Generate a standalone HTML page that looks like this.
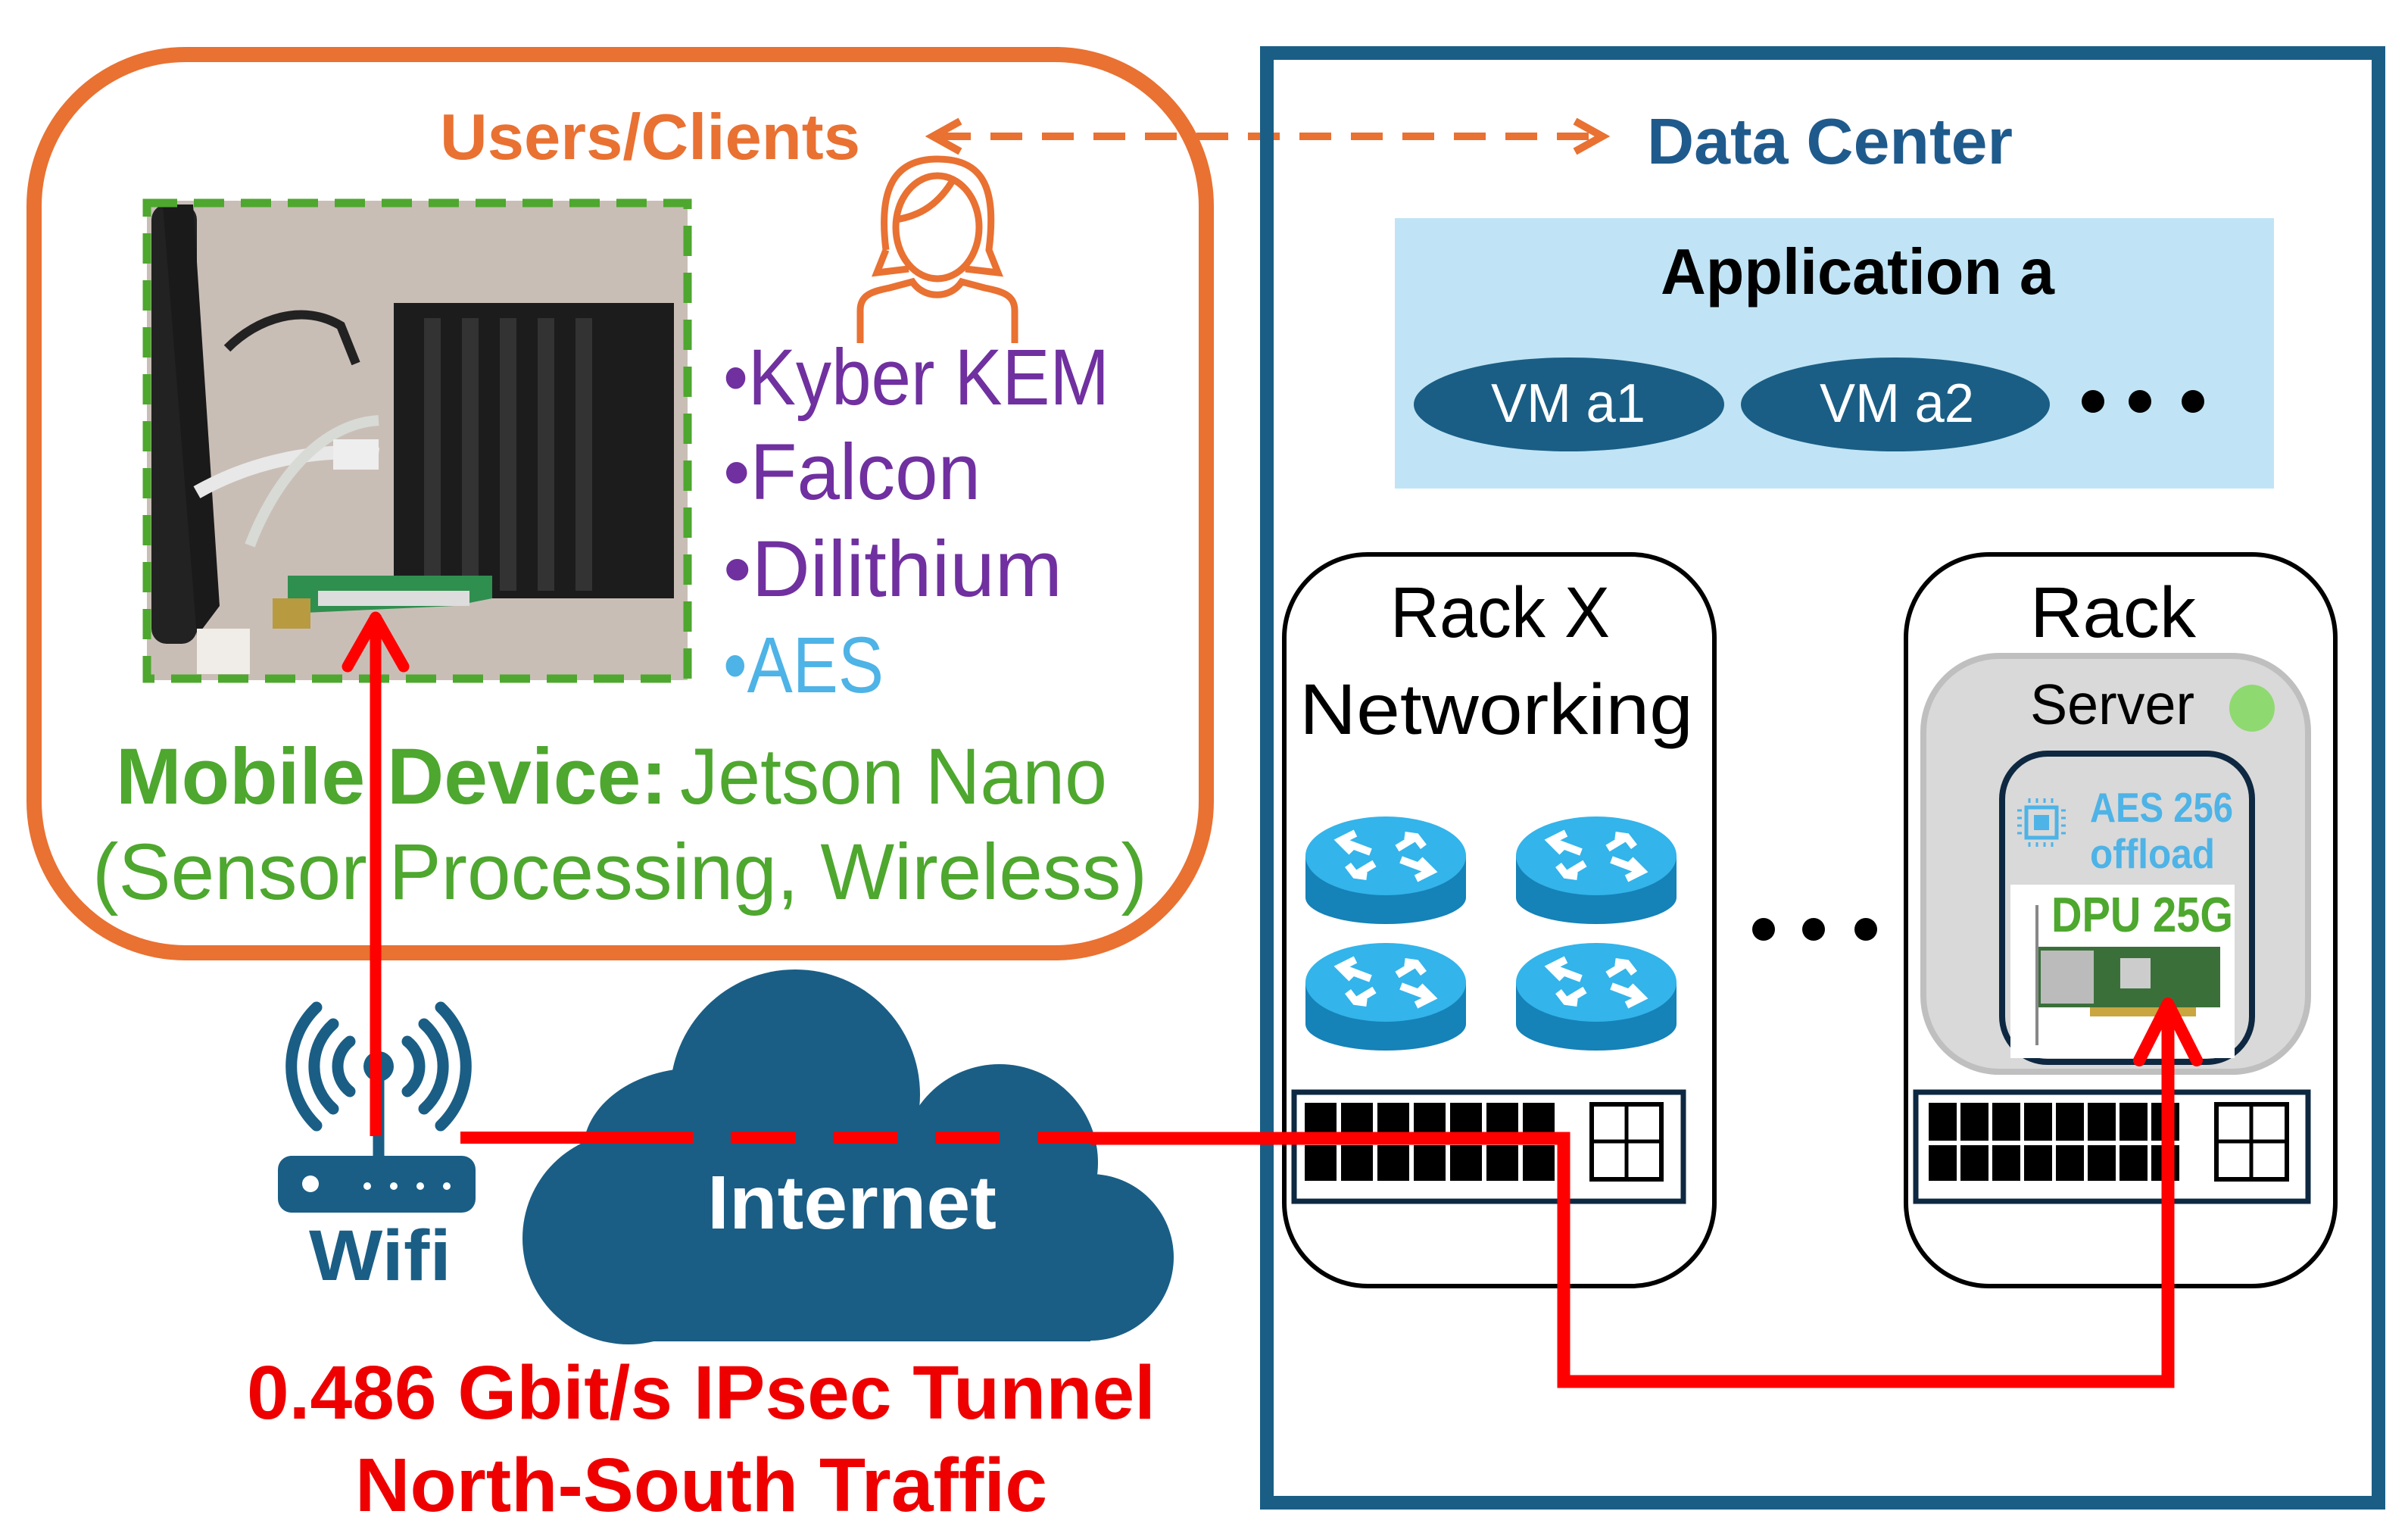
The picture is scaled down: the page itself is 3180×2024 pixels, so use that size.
<!DOCTYPE html>
<html><head><meta charset="utf-8"><style>html,body{margin:0;padding:0;background:#fff}svg{display:block}text{font-family:"Liberation Sans",sans-serif}</style></head><body>
<svg width="3180" height="2024" viewBox="0 0 3180 2024" xmlns="http://www.w3.org/2000/svg">
<rect width="3180" height="2024" fill="#fff"/>
<!-- Orange users box -->
<rect x="45" y="72" width="1548" height="1186" rx="200" fill="none" stroke="#E97132" stroke-width="20"/>
<text x="581" y="210" font-size="85" font-weight="bold" fill="#E97132" textLength="555" lengthAdjust="spacingAndGlyphs">Users/Clients</text>
<!-- dashed double arrow -->
<line x1="1240" y1="180" x2="2105" y2="180" stroke="#E97132" stroke-width="10" stroke-dasharray="42 26"/>
<polyline points="1268,160 1232,180 1268,200" fill="none" stroke="#E97132" stroke-width="10"/>
<polyline points="2080,160 2116,180 2080,200" fill="none" stroke="#E97132" stroke-width="10"/>
<!-- person icon -->
<g fill="none" stroke="#E97132" stroke-width="9">
<ellipse cx="1238" cy="300" rx="55" ry="68"/>
<path d="M1170,330 C1160,250 1180,210 1238,210 C1300,210 1316,250 1306,330 L1318,360 L1275,355"/>
<path d="M1170,330 L1158,360 L1200,355"/>
<path d="M1183,290 C1215,285 1240,270 1260,235"/>
<path d="M1136,453 L1136,410 C1136,390 1150,385 1175,380 L1205,372 C1220,395 1255,395 1270,372 L1300,380 C1325,385 1340,390 1340,410 L1340,453"/>
</g>
<!-- photo -->
<g>
<rect x="194" y="265" width="714" height="633" fill="#C9BEB6"/>
<rect x="200" y="270" width="60" height="580" fill="#222" rx="20"/>
<path d="M215,270 L255,270 L290,800 L260,840 Z" fill="#1a1a1a"/>
<rect x="520" y="400" width="370" height="390" fill="#1c1c1c"/>
<rect x="560" y="420" width="22" height="360" fill="#333"/>
<rect x="610" y="420" width="22" height="360" fill="#333"/>
<rect x="660" y="420" width="22" height="360" fill="#333"/>
<rect x="710" y="420" width="22" height="360" fill="#333"/>
<rect x="760" y="420" width="22" height="360" fill="#333"/>
<path d="M260,650 C330,610 420,590 500,600" stroke="#e8e8e8" stroke-width="18" fill="none"/>
<path d="M330,720 C360,640 420,560 500,555" stroke="#d8dad6" stroke-width="14" fill="none"/>
<path d="M300,460 C340,420 400,400 450,430 L470,480" stroke="#222" stroke-width="12" fill="none"/>
<rect x="440" y="580" width="60" height="40" fill="#eee"/>
<path d="M380,760 L650,760 L650,790 L600,800 L380,810 Z" fill="#2f8f4f"/>
<rect x="420" y="780" width="200" height="20" fill="#ddd"/>
<rect x="360" y="790" width="50" height="40" fill="#b89a40"/>
<rect x="260" y="830" width="70" height="60" fill="#f0ece8"/>
</g>
<rect x="194" y="268" width="714" height="628" fill="none" stroke="#4EA72E" stroke-width="11" stroke-dasharray="40 22"/>
<!-- bullets -->
<text x="955" y="534" font-size="105" fill="#7030A0" textLength="510" lengthAdjust="spacingAndGlyphs">•Kyber KEM</text>
<text x="955" y="659" font-size="105" fill="#7030A0" textLength="340" lengthAdjust="spacingAndGlyphs">•Falcon</text>
<text x="955" y="787" font-size="105" fill="#7030A0" textLength="448" lengthAdjust="spacingAndGlyphs">•Dilithium</text>
<text x="955" y="914" font-size="105" fill="#4EB3E6" textLength="212" lengthAdjust="spacingAndGlyphs">•AES</text>
<text x="153" y="1061" font-size="105" font-weight="bold" fill="#4EA72E" textLength="728" lengthAdjust="spacingAndGlyphs">Mobile Device:</text>
<text x="898" y="1061" font-size="105" fill="#4EA72E" textLength="564" lengthAdjust="spacingAndGlyphs">Jetson Nano</text>
<text x="122" y="1187" font-size="105" fill="#4EA72E" textLength="1393" lengthAdjust="spacingAndGlyphs">(Sensor Processing, Wireless)</text>
<!-- cloud -->
<g fill="#1A5E85">
<circle cx="830" cy="1635" r="140"/>
<circle cx="1050" cy="1445" r="165"/>
<circle cx="1320" cy="1535" r="130"/>
<circle cx="1440" cy="1660" r="110"/>
<ellipse cx="920" cy="1520" rx="150" ry="110"/>
<rect x="830" y="1500" width="610" height="271" rx="60"/>
<rect x="830" y="1600" width="610" height="171"/>
</g>
<text x="934" y="1622" font-size="100" font-weight="bold" fill="#fff" textLength="382" lengthAdjust="spacingAndGlyphs">Internet</text>
<!-- wifi icon -->
<g fill="none" stroke="#1A5E85" stroke-width="15" stroke-linecap="round">
<path d="M462,1375 A42,42 0 0 0 462,1441"/><path d="M538,1375 A42,42 0 0 1 538,1441"/>
<path d="M440,1352 A75,75 0 0 0 440,1464"/><path d="M560,1352 A75,75 0 0 1 560,1464"/>
<path d="M418,1330 A108,108 0 0 0 418,1486"/><path d="M582,1330 A108,108 0 0 1 582,1486"/>
<line x1="500" y1="1410" x2="500" y2="1526"/>
</g>
<circle cx="500" cy="1408" r="20" fill="#1A5E85"/>
<rect x="367" y="1526" width="261" height="75" rx="18" fill="#1A5E85"/>
<circle cx="410" cy="1563" r="11" fill="#fff"/>
<circle cx="485" cy="1566" r="5" fill="#fff"/><circle cx="520" cy="1566" r="5" fill="#fff"/><circle cx="555" cy="1566" r="5" fill="#fff"/><circle cx="590" cy="1566" r="5" fill="#fff"/>
<text x="408" y="1690" font-size="95" font-weight="bold" fill="#1A5E85" textLength="188" lengthAdjust="spacingAndGlyphs">Wifi</text>
<!-- red bottom text -->
<text x="326" y="1873" font-size="100" font-weight="bold" fill="#EE0000" textLength="1200" lengthAdjust="spacingAndGlyphs">0.486 Gbit/s IPsec Tunnel</text>
<text x="469" y="1995" font-size="100" font-weight="bold" fill="#EE0000" textLength="914" lengthAdjust="spacingAndGlyphs">North-South Traffic</text>
<!-- Data center -->
<rect x="1673" y="70" width="1468" height="1914" fill="none" stroke="#1A5E85" stroke-width="18"/>
<text x="2175" y="216" font-size="85" font-weight="bold" fill="#1F5A8C" textLength="483" lengthAdjust="spacingAndGlyphs">Data Center</text>
<rect x="1842" y="288" width="1161" height="357" fill="#C0E4F5"/>
<text x="2193" y="388" font-size="85" font-weight="bold" fill="#000" textLength="520" lengthAdjust="spacingAndGlyphs">Application a</text>
<ellipse cx="2072" cy="534" rx="205" ry="62" fill="#1A5E85"/>
<ellipse cx="2503" cy="534" rx="204" ry="62" fill="#1A5E85"/>
<text x="1969" y="557" font-size="72" fill="#fff" textLength="204" lengthAdjust="spacingAndGlyphs">VM a1</text>
<text x="2403" y="557" font-size="72" fill="#fff" textLength="204" lengthAdjust="spacingAndGlyphs">VM a2</text>
<circle cx="2764" cy="530" r="15" fill="#000"/><circle cx="2826" cy="530" r="15" fill="#000"/><circle cx="2896" cy="530" r="15" fill="#000"/>
<!-- Rack X -->
<rect x="1696" y="732" width="568" height="966" rx="110" fill="#fff" stroke="#000" stroke-width="6"/>
<text x="1836" y="841" font-size="95" fill="#000" textLength="290" lengthAdjust="spacingAndGlyphs">Rack X</text>
<text x="1716" y="969" font-size="95" fill="#000" textLength="520" lengthAdjust="spacingAndGlyphs">Networking</text>
<g id="router">
<path d="M1724,1130 L1724,1185 A106,35 0 0 0 1936,1185 L1936,1130 Z" fill="#1582B8"/>
<ellipse cx="1830" cy="1130" rx="106" ry="52" fill="#33B4EA"/>
<g stroke="#fff" stroke-width="10" fill="none">
<path d="M1770,1110 L1810,1125 M1790,1100 L1770,1110 L1785,1125"/>
<path d="M1890,1150 L1850,1135 M1870,1160 L1890,1150 L1875,1135"/>
<path d="M1790,1155 L1815,1140 M1780,1142 L1790,1155 L1805,1157"/>
<path d="M1870,1105 L1845,1120 M1880,1118 L1870,1105 L1855,1103"/>
</g>
</g>
<use href="#router" x="278" y="0"/>
<use href="#router" x="0" y="167"/>
<use href="#router" x="278" y="167"/>
<rect x="1709" y="1442" width="514" height="144" fill="#fff" stroke="#0E2841" stroke-width="7"/>
<g fill="#000">
<rect x="1723" y="1456" width="42" height="50"/><rect x="1771" y="1456" width="42" height="50"/><rect x="1819" y="1456" width="42" height="50"/><rect x="1867" y="1456" width="42" height="50"/><rect x="1915" y="1456" width="42" height="50"/><rect x="1963" y="1456" width="42" height="50"/><rect x="2011" y="1456" width="42" height="50"/>
<rect x="1723" y="1512" width="42" height="47"/><rect x="1771" y="1512" width="42" height="47"/><rect x="1819" y="1512" width="42" height="47"/><rect x="1867" y="1512" width="42" height="47"/><rect x="1915" y="1512" width="42" height="47"/><rect x="1963" y="1512" width="42" height="47"/><rect x="2011" y="1512" width="42" height="47"/>
</g>
<rect x="2102" y="1458" width="92" height="99" fill="#fff" stroke="#000" stroke-width="6"/>
<line x1="2148" y1="1458" x2="2148" y2="1557" stroke="#000" stroke-width="5"/><line x1="2102" y1="1507" x2="2194" y2="1507" stroke="#000" stroke-width="5"/>
<circle cx="2329" cy="1227" r="15" fill="#000"/><circle cx="2395" cy="1227" r="15" fill="#000"/><circle cx="2464" cy="1227" r="15" fill="#000"/>
<!-- Rack right -->
<rect x="2517" y="732" width="567" height="966" rx="110" fill="#fff" stroke="#000" stroke-width="6"/>
<text x="2681" y="841" font-size="95" fill="#000" textLength="219" lengthAdjust="spacingAndGlyphs">Rack</text>
<rect x="2540" y="866" width="508" height="549" rx="100" fill="#D9D9D9" stroke="#BFBFBF" stroke-width="8"/>
<text x="2681" y="956" font-size="75" fill="#000" textLength="217" lengthAdjust="spacingAndGlyphs">Server</text>
<ellipse cx="2974" cy="935" rx="30" ry="31" fill="#8FD971"/>
<rect x="2644" y="995" width="330" height="407" rx="60" fill="#D9D9D9" stroke="#0E2841" stroke-width="8"/>
<rect x="2655" y="1168" width="296" height="229" fill="#fff"/>
<g>
<rect x="2676" y="1066" width="40" height="40" fill="none" stroke="#4EB3E6" stroke-width="5"/>
<rect x="2686" y="1076" width="20" height="20" fill="#4EB3E6"/>
<path d="M2680,1060v-6M2690,1060v-6M2700,1060v-6M2710,1060v-6M2680,1118v-6M2690,1118v-6M2700,1118v-6M2710,1118v-6M2670,1070h-6M2670,1080h-6M2670,1090h-6M2670,1100h-6M2728,1070h-6M2728,1080h-6M2728,1090h-6M2728,1100h-6" stroke="#4EB3E6" stroke-width="3"/>
</g>
<text x="2760" y="1085" font-size="55" font-weight="bold" fill="#4EB3E6" textLength="189" lengthAdjust="spacingAndGlyphs">AES 256</text>
<text x="2760" y="1146" font-size="55" font-weight="bold" fill="#4EB3E6" textLength="165" lengthAdjust="spacingAndGlyphs">offload</text>
<text x="2709" y="1230" font-size="65" font-weight="bold" fill="#4EA72E" textLength="240" lengthAdjust="spacingAndGlyphs">DPU 25G</text>
<line x1="2690" y1="1195" x2="2690" y2="1380" stroke="#888" stroke-width="4"/>
<rect x="2692" y="1250" width="240" height="80" fill="#3b6f3a"/>
<rect x="2695" y="1255" width="70" height="70" fill="#bbb"/>
<rect x="2800" y="1265" width="40" height="40" fill="#ccc"/>
<rect x="2760" y="1330" width="140" height="12" fill="#c9a640"/>
<rect x="2530" y="1442" width="518" height="144" fill="#fff" stroke="#0E2841" stroke-width="7"/>
<g fill="#000">
<rect x="2547" y="1456" width="37" height="50"/><rect x="2589" y="1456" width="37" height="50"/><rect x="2631" y="1456" width="37" height="50"/><rect x="2673" y="1456" width="37" height="50"/><rect x="2715" y="1456" width="37" height="50"/><rect x="2757" y="1456" width="37" height="50"/><rect x="2799" y="1456" width="37" height="50"/><rect x="2841" y="1456" width="37" height="50"/>
<rect x="2547" y="1512" width="37" height="47"/><rect x="2589" y="1512" width="37" height="47"/><rect x="2631" y="1512" width="37" height="47"/><rect x="2673" y="1512" width="37" height="47"/><rect x="2715" y="1512" width="37" height="47"/><rect x="2757" y="1512" width="37" height="47"/><rect x="2799" y="1512" width="37" height="47"/><rect x="2841" y="1512" width="37" height="47"/>
</g>
<rect x="2927" y="1458" width="93" height="99" fill="#fff" stroke="#000" stroke-width="6"/>
<line x1="2973" y1="1458" x2="2973" y2="1557" stroke="#000" stroke-width="5"/><line x1="2927" y1="1507" x2="3020" y2="1507" stroke="#000" stroke-width="5"/>
<!-- red connectors -->
<line x1="496" y1="1500" x2="496" y2="812" stroke="#FF0000" stroke-width="15"/>
<polyline points="459,880 496,815 533,880" fill="none" stroke="#FF0000" stroke-width="15" stroke-linecap="round" stroke-linejoin="round"/>
<line x1="608" y1="1502" x2="830" y2="1502" stroke="#FF0000" stroke-width="16"/>
<line x1="830" y1="1502" x2="1440" y2="1502" stroke="#FF0000" stroke-width="16" stroke-dasharray="85 50"/>
<polyline points="1440,1503 2065,1503 2065,1824 2863,1824 2863,1325" fill="none" stroke="#FF0000" stroke-width="17"/>
<polyline points="2825,1400 2863,1325 2901,1400" fill="none" stroke="#FF0000" stroke-width="16" stroke-linecap="round" stroke-linejoin="round"/>
</svg>
</body></html>
